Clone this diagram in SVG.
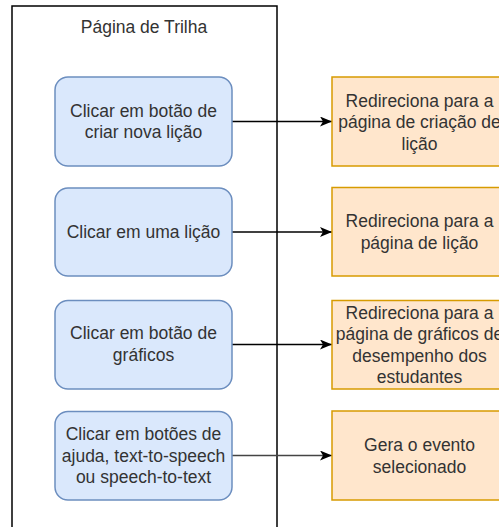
<svg xmlns="http://www.w3.org/2000/svg" width="499" height="527" viewBox="0 0 499 527">
<defs>
<style>
.t{font-family:"Liberation Sans",Arial,sans-serif;font-size:17.5px;fill:#333;text-anchor:middle}
.b{fill:#dae8fc;stroke:#6c8ebf;stroke-width:1.5}
.o{fill:#ffe6cc;stroke:#d79b00;stroke-width:1.5}
.c{fill:none;stroke:#000;stroke-width:1.5}
</style>
<marker id="ah" markerWidth="12" markerHeight="10" refX="12" refY="5" orient="auto" markerUnits="userSpaceOnUse">
<path d="M0,0 L12,5 L0,10 L3,5 z" fill="#000"/>
</marker>
</defs>
<rect width="499" height="527" fill="#fff"/>
<g id="frame">
<path d="M12,530 L12,6 L277,6 L277,530" fill="none" stroke="#000" stroke-width="1.5"/>
<text class="t" x="144" y="33">Página de Trilha</text>
</g>
<g id="connectors">
<path class="c" d="M232,121.5 L332,121.5" marker-end="url(#ah)"/>
<path class="c" d="M232,232 L332,232" marker-end="url(#ah)"/>
<path class="c" d="M232,344.5 L332,344.5" stroke="#222" marker-end="url(#ah)"/>
<path class="c" d="M232,455.5 L332,455.5" style="stroke:#444" marker-end="url(#ah)"/>
</g>
<g id="a1">
<rect class="b" x="55" y="77" width="177" height="89" rx="13"/>
<text class="t" x="143.5" y="116.7">Clicar em botão de</text>
<text class="t" x="143.5" y="138.3">criar nova lição</text>
</g>
<g id="a2">
<rect class="b" x="55" y="188" width="177" height="88" rx="13"/>
<text class="t" x="143.5" y="238.2">Clicar em uma lição</text>
</g>
<g id="a3">
<rect class="b" x="55" y="300.5" width="177" height="88.5" rx="13"/>
<text class="t" x="143.5" y="339.1">Clicar em botão de</text>
<text class="t" x="143.5" y="360.7">gráficos</text>
</g>
<g id="a4">
<rect class="b" x="55" y="411.5" width="177" height="88.5" rx="13"/>
<text class="t" x="143.5" y="440.1">Clicar em botões de</text>
<text class="t" x="143.5" y="461.7">ajuda, text-to-speech</text>
<text class="t" x="143.5" y="483.3">ou speech-to-text</text>
</g>
<g id="r1">
<rect class="o" x="332" y="77" width="175" height="89"/>
<text class="t" x="419.5" y="106.7">Redireciona para a</text>
<text class="t" x="419.5" y="128.3">página de criação de</text>
<text class="t" x="419.5" y="149.9">lição</text>
</g>
<g id="r2">
<rect class="o" x="332" y="187.5" width="175" height="88.5"/>
<text class="t" x="419.5" y="226.9">Redireciona para a</text>
<text class="t" x="419.5" y="248.5">página de lição</text>
</g>
<g id="r3">
<rect class="o" x="332" y="300.5" width="175" height="88.5"/>
<text class="t" x="419.5" y="318.6">Redireciona para a</text>
<text class="t" x="419.5" y="340.2">página de gráficos de</text>
<text class="t" x="419.5" y="361.8">desempenho dos</text>
<text class="t" x="419.5" y="383.4">estudantes</text>
</g>
<g id="r4">
<rect class="o" x="332" y="411" width="175" height="89"/>
<text class="t" x="419.5" y="450.9">Gera o evento</text>
<text class="t" x="419.5" y="472.5">selecionado</text>
</g>
</svg>
